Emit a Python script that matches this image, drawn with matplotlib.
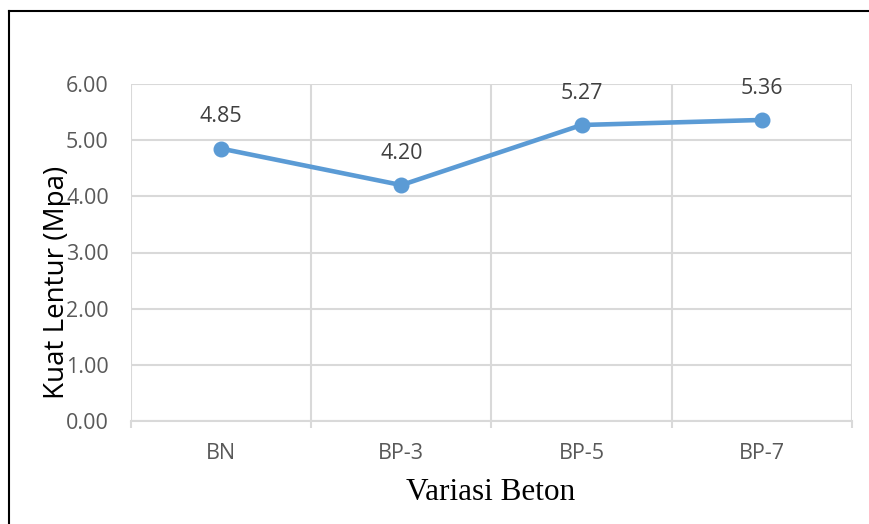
import numpy as np
import matplotlib.pyplot as plt
from matplotlib.lines import Line2D

categories = ["BN", "BP-3", "BP-5", "BP-7"]
kuat_lentur = [4.85, 4.20, 5.27, 5.36]
y_ticks = [0, 1, 2, 3, 4, 5, 6]

blue = "#5B9BD5"
grid = "#D9D9D9"
gray = "#595959"
sans = "Open Sans"

fig = plt.figure(figsize=(8.7, 5.24), dpi=100)
ax = fig.add_axes([131 / 870, 1 - 421 / 524, (852 - 131) / 870, (421 - 84) / 524])

x = np.arange(len(categories))
ax.plot(x, kuat_lentur, color=blue, lw=3.3, marker="o", markersize=10.5, zorder=3,
        solid_capstyle="round")
for xi, v in zip(x, kuat_lentur):
    ax.annotate(f"{v:.2f}", (xi, v), xytext=(0, 23), textcoords="offset points",
                ha="center", va="center", fontsize=15.5, color="#404040", family=sans)

ax.set_xlim(-0.5, len(categories) - 0.5)
ax.set_ylim(0, 6)
ax.set_yticks(y_ticks)
ax.set_yticklabels([f"{t:.2f}" for t in y_ticks], fontsize=15.5, color=gray, family=sans)
ax.set_xticks(x)
ax.set_xticklabels(categories, fontsize=15.5, color=gray, family=sans)
ax.set_xticks(np.arange(-0.5, len(categories)), minor=True)

ax.tick_params(axis="y", length=0, pad=16)
ax.tick_params(axis="x", which="major", length=0, pad=16)
ax.tick_params(axis="x", which="minor", length=5, width=1.5, color=grid)
ax.grid(axis="y", color=grid, lw=1.5)
ax.grid(axis="x", which="minor", color=grid, lw=1.5)
for s in ["top", "right", "left"]:
    ax.spines[s].set_visible(False)
ax.spines["bottom"].set_color(grid)
ax.spines["bottom"].set_linewidth(1.5)
ax.set_axisbelow(True)

fig.text(491 / 870, 1 - 492 / 524, "Variasi Beton", ha="center", va="center",
         fontsize=22.5, family="Liberation Serif")
fig.text(57 / 870, 1 - 282 / 524, "Kuat Lentur (Mpa)", ha="center", va="center",
         rotation=90, fontsize=20, family=sans, color="black")

# border lines of the original figure frame
fig.add_artist(Line2D([9.5 / 870, 9.5 / 870], [0, 1 - 10.5 / 524], color="black", lw=1.5))
fig.add_artist(Line2D([9.5 / 870, 1], [1 - 10.5 / 524, 1 - 10.5 / 524], color="black", lw=1.5))

fig.savefig("out.png", dpi=100)
